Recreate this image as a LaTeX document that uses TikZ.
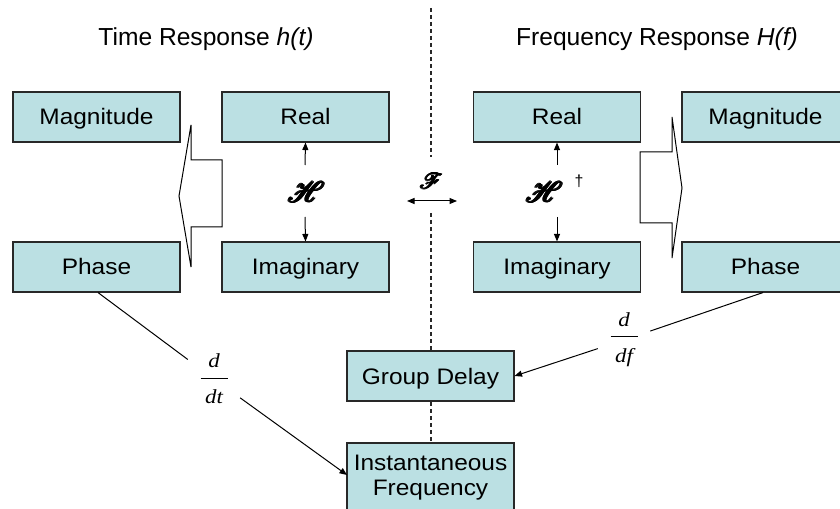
\documentclass[tikz,border=0pt]{standalone}
\usepackage{fontspec}
\setmainfont{Liberation Sans}
\newfontfamily\boxfont{Liberation Sans}[FakeStretch=1.09]
\newfontfamily\fracfont{Liberation Serif}[FakeStretch=1.15]
\usepackage{mathrsfs}
\usetikzlibrary{arrows.meta}

\definecolor{boxfill}{RGB}{187,224,227}
\definecolor{edge}{RGB}{40,40,40}

% heavy script letter: the glyph printed several times with tiny offsets
\newcommand{\heavyscr}[1]{\mbox{%
  \rlap{$\mathscr{#1}$}%
  \rlap{\hspace{0.4pt}$\mathscr{#1}$}%
  \rlap{\hspace{0.8pt}$\mathscr{#1}$}%
  \rlap{\hspace{0.4pt}\raisebox{0.3pt}{$\mathscr{#1}$}}%
  \rlap{\hspace{0.4pt}\raisebox{-0.3pt}{$\mathscr{#1}$}}%
  \rlap{\hspace{0.2pt}\raisebox{0.15pt}{$\mathscr{#1}$}}%
  \rlap{\hspace{0.6pt}\raisebox{-0.15pt}{$\mathscr{#1}$}}%
  \hspace{0.8pt}$\mathscr{#1}$}}

% stacked derivative operator: numerator, bar, denominator
\newcommand{\derivfrac}[2]{\vbox{%
  \hbox to 27bp{\hss\itshape#1\hss}%
  \kern9.5bp\hrule height 0.9bp\kern11.5bp
  \hbox to 27bp{\hss\itshape#2\hss}}}

\begin{document}
\begin{tikzpicture}[x=1bp,y=-1bp,
  box/.style={draw=edge, line width=1.1bp, fill=boxfill,
    minimum width=167bp, minimum height=50bp, inner sep=0pt,
    font=\boxfont\fontsize{22.5}{25}\selectfont},
  onebox/.style={box, text height=18bp, text depth=2bp},
  heading/.style={font=\fontsize{24.7}{27}\selectfont},
  conn/.style={line width=1bp, draw=black},
  tipped/.style={conn, -{Triangle[length=7.5bp,width=6bp]}},
  both/.style={conn, {Triangle[length=7.5bp,width=6bp]}-{Triangle[length=7.5bp,width=6bp]}},
  deriv/.style={minimum width=52bp, minimum height=40bp, inner sep=0pt,
    font=\fracfont\fontsize{20}{22}\selectfont},
  symb/.style={inner sep=0pt},
  blockarrow/.style={draw=black, line width=1bp, fill=white, line join=miter},
  divider/.style={draw=edge, line width=1.2bp, dash pattern=on 4bp off 3bp}]

\useasboundingbox (0,0) rectangle (840,509);

% dividing line between the two domains
\coordinate (d0) at (431,8);
\coordinate (d1) at (431,157);
\coordinate (d2) at (431,213);
\coordinate (d3) at (431,445);
\draw[divider] (d0) -- (d1);
\draw[divider] (d2) -- (d3);

% headings
\node[heading, anchor=base] (tHead) at (206,46) {Time Response \textit{h(t)}};
\node[heading, anchor=base] (fHead) at (657,46) {Frequency Response \textit{H(f)}};

% block arrows (polar <-> rectangular)
\draw[blockarrow] (222,160) -- (191,160) -- (191,125) -- (179,196)
  -- (191,267) -- (191,227) -- (222,227) -- cycle;
\draw[blockarrow] (640,152) -- (672,152) -- (672,117) -- (682,188)
  -- (672,258) -- (672,223) -- (640,223) -- cycle;

% boxes
\node[onebox] (magL)   at (96.5,117)  {Magnitude};
\node[onebox] (phaseL) at (96.5,267)  {Phase};
\node[onebox] (realL)  at (305.5,117) {Real};
\node[onebox] (imagL)  at (305.5,267) {Imaginary};
\node[onebox] (realR)  at (557,117)   {Real};
\node[onebox] (imagR)  at (557,267)   {Imaginary};
\node[onebox] (magR)   at (765.5,117) {Magnitude};
\node[onebox] (phaseR) at (765.5,267) {Phase};
\node[onebox] (gd)     at (430.5,376) {Group Delay};
\node[box, minimum height=70bp, align=center] (inst) at (430.5,478)
  {Instantaneous\\Frequency};

% Hilbert transform pairs
\node[symb] (hilL) at (306,192) {\scalebox{2.9}{\normalsize\heavyscr{H}}};
\node[symb] (hilR) at (544,192) {\scalebox{2.9}{\normalsize\heavyscr{H}}};
\node[symb, font=\fontsize{16}{18}\selectfont] (dag) at (579,181) {\dag};
\coordinate (hLup) at (305,165);
\coordinate (hLdn) at (305,217);
\coordinate (hRup) at (557,165);
\coordinate (hRdn) at (557,217);
\draw[tipped] (hLup) -- (realL.south);
\draw[tipped] (hLdn) -- (imagL.north);
\draw[tipped] (hRup) -- (realR.south);
\draw[tipped] (hRdn) -- (imagR.north);

% Fourier transform
\node[symb] (four) at (431,181) {\scalebox{2.2}{\normalsize\heavyscr{F}}};
\coordinate (fl) at (407,201);
\coordinate (fr) at (457,201);
\draw[both] (fl) -- (fr);

% derivatives
\node[deriv] (ddt) at (214,379) {\derivfrac{d}{dt}};
\node[deriv] (ddf) at (624,340) {\derivfrac{d}{df}};
\coordinate (instIn) at (347,475);
\draw[conn] ([xshift=1.5bp]phaseL.south) -- (ddt);
\draw[tipped] (ddt) -- (instIn);
\draw[conn] ([xshift=-2.5bp]phaseR.south) -- (ddf);
\draw[tipped] (ddf) -- (gd.east);

\end{tikzpicture}
\end{document}
